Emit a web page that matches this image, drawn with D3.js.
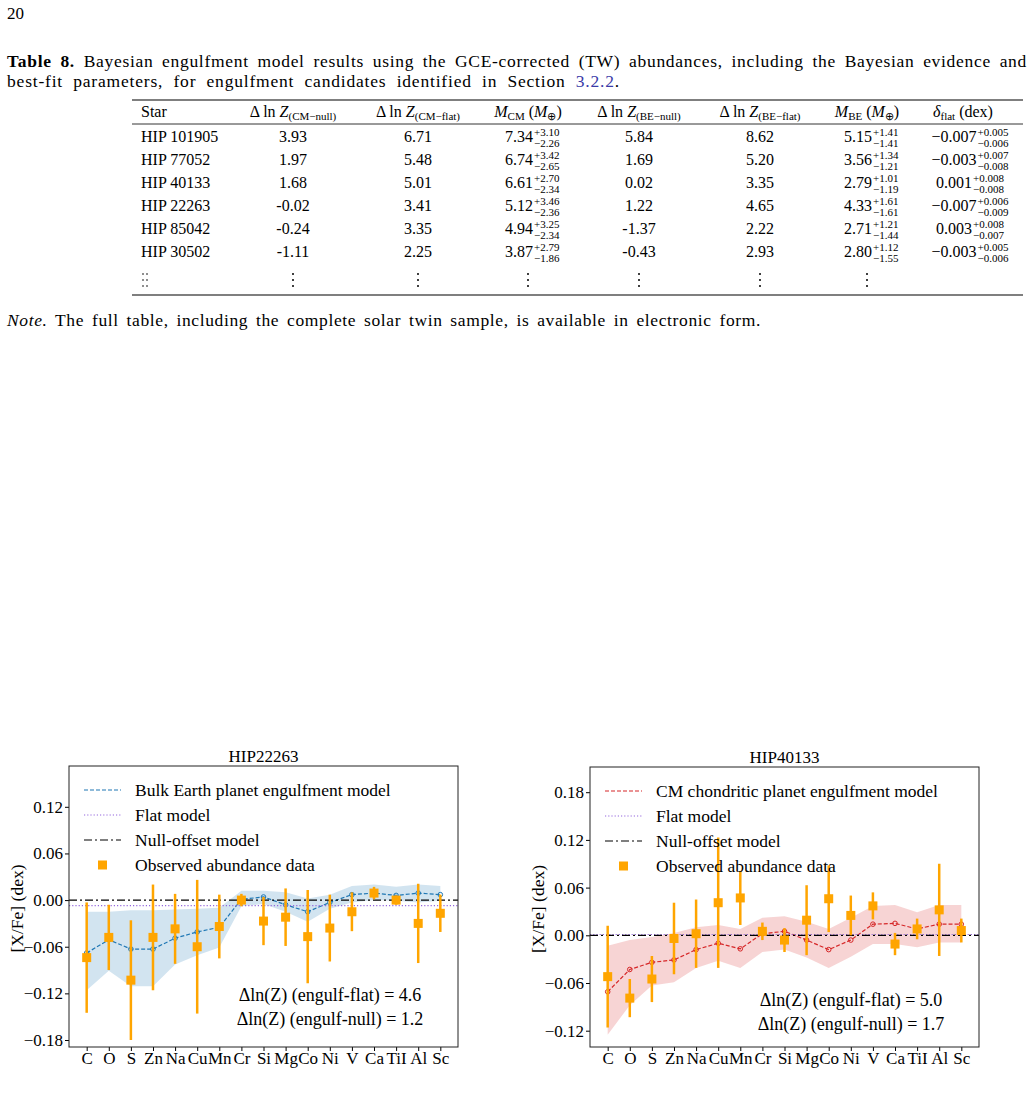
<!DOCTYPE html>
<html>
<head>
<meta charset="utf-8">
<script src="https://cdn.jsdelivr.net/npm/d3@7"></script>
<style>
  body { margin: 0; background: #fff; }
  svg { display: block; }
  text { font-family: "Liberation Serif", "Times New Roman", serif; fill: #000; }
</style>
</head>
<body>
<script>
// ---- table data ----
const stars = ["HIP 101905", "HIP 77052", "HIP 40133", "HIP 22263", "HIP 85042", "HIP 30502"];
const dlnzCmNull = ["3.93", "1.97", "1.68", "-0.02", "-0.24", "-1.11"];
const dlnzCmFlat = ["6.71", "5.48", "5.01", "3.41", "3.35", "2.25"];
const massCm = [["7.34", "+3.10", "−2.26"], ["6.74", "+3.42", "−2.65"], ["6.61", "+2.70", "−2.34"],
                ["5.12", "+3.46", "−2.36"], ["4.94", "+3.25", "−2.34"], ["3.87", "+2.79", "−1.86"]];
const dlnzBeNull = ["5.84", "1.69", "0.02", "1.22", "-1.37", "-0.43"];
const dlnzBeFlat = ["8.62", "5.20", "3.35", "4.65", "2.22", "2.93"];
const massBe = [["5.15", "+1.41", "−1.41"], ["3.56", "+1.34", "−1.21"], ["2.79", "+1.01", "−1.19"],
                ["4.33", "+1.61", "−1.61"], ["2.71", "+1.21", "−1.44"], ["2.80", "+1.12", "−1.55"]];
const deltaFlat = [["−0.007", "+0.005", "−0.006"], ["−0.003", "+0.007", "−0.008"], ["0.001", "+0.008", "−0.008"],
                   ["−0.007", "+0.006", "−0.009"], ["0.003", "+0.008", "−0.007"], ["−0.003", "+0.005", "−0.006"]];

// ---- chart data ----
const elements = ["C", "O", "S", "Zn", "Na", "Cu", "Mn", "Cr", "Si", "Mg", "Co", "Ni", "V", "Ca", "TiI", "Al", "Sc"];

// HIP22263, bulk Earth model
const obs22263 = [-0.074, -0.048, -0.103, -0.048, -0.037, -0.060, -0.034, 0.000, -0.027, -0.022, -0.047, -0.036, -0.015, 0.009, 0.000, -0.030, -0.017];
const err22263 = [0.071, 0.042, 0.077, 0.068, 0.045, 0.086, 0.041, 0.008, 0.031, 0.037, 0.060, 0.043, 0.025, 0.008, 0.006, 0.051, 0.024];
const model22263 = [-0.068, -0.051, -0.063, -0.063, -0.049, -0.041, -0.035, 0.001, 0.004, -0.006, -0.015, -0.003, 0.007, 0.009, 0.006, 0.009, 0.007];
const bandLo22263 = [-0.116, -0.091, -0.111, -0.111, -0.083, -0.071, -0.061, -0.008, -0.005, -0.015, -0.028, -0.011, -0.003, 0.000, -0.001, -0.003, -0.001];
const bandHi22263 = [-0.015, -0.015, -0.013, -0.013, -0.012, -0.011, -0.010, 0.012, 0.012, 0.010, 0.002, 0.007, 0.018, 0.020, 0.017, 0.020, 0.018];

// HIP40133, CM chondritic model
const obs40133 = [-0.052, -0.079, -0.055, -0.004, 0.002, 0.041, 0.047, 0.005, -0.006, 0.019, 0.046, 0.025, 0.037, -0.011, 0.008, 0.032, 0.006];
const err40133 = [0.064, 0.024, 0.029, 0.045, 0.043, 0.082, 0.034, 0.011, 0.015, 0.044, 0.042, 0.025, 0.017, 0.014, 0.013, 0.058, 0.015];
const model40133 = [-0.071, -0.043, -0.034, -0.031, -0.018, -0.010, -0.017, 0.002, 0.005, -0.006, -0.018, -0.006, 0.014, 0.015, 0.008, 0.014, 0.014];
const bandLo40133 = [-0.125, -0.088, -0.063, -0.059, -0.041, -0.032, -0.041, -0.021, -0.018, -0.028, -0.041, -0.027, -0.011, -0.011, -0.015, -0.009, -0.009];
const bandHi40133 = [-0.013, -0.006, -0.002, 0.003, 0.010, 0.013, 0.008, 0.022, 0.024, 0.017, 0.008, 0.022, 0.037, 0.038, 0.029, 0.038, 0.038];

const W = 1034, H = 1107;
const svg = d3.select("body").append("svg").attr("width", W).attr("height", H);

// stretch a line to a given width, sharing the slack between letters and spaces
function justify(t, target) {
  const s = t.text();
  const spaces = (s.match(/ /g) || []).length;
  const extra = target - t.node().getComputedTextLength();
  if (extra <= 0) return;
  t.attr("letter-spacing", 0.6 * extra / s.length);
  if (spaces > 0) t.attr("word-spacing", 0.4 * extra / spaces);
}

// ---- page text ----
svg.append("text").attr("x", 7).attr("y", 19).attr("font-size", 17).text("20");

const cap1 = svg.append("text").attr("x", 7).attr("y", 67).attr("font-size", 17.5);
cap1.append("tspan").attr("font-weight", "bold").text("Table 8.");
cap1.append("tspan").text(" Bayesian engulfment model results using the GCE-corrected (TW) abundances, including the Bayesian evidence and");
justify(cap1, 1020);

const cap2 = svg.append("text").attr("x", 7).attr("y", 87).attr("font-size", 17.5);
cap2.append("tspan").text("best-fit parameters, for engulfment candidates identified in Section ");
cap2.append("tspan").style("fill", "#3a3aa8").text("3.2.2");
cap2.append("tspan").text(".");
justify(cap2, 613);

const note = svg.append("text").attr("x", 7).attr("y", 326).attr("font-size", 17.5);
note.append("tspan").attr("font-style", "italic").text("Note.");
note.append("tspan").text(" The full table, including the complete solar twin sample, is available in electronic form.");
justify(note, 754);

// ---- table ----
const tbl = svg.append("g");
const tx0 = 132, tx1 = 1023;
[[100, 1.2], [124, 0.8], [295, 1.2]].forEach(([yy, sw]) => {
  tbl.append("line").attr("x1", tx0).attr("x2", tx1).attr("y1", yy).attr("y2", yy)
    .attr("stroke", "#000").attr("stroke-width", sw);
});

const colX = [141, 293, 418, 528, 639, 760, 867, 963];
const headerY = 117;
const fs = 16;

function lnZHeader(x, sub) {
  const t = tbl.append("text").attr("x", x).attr("y", headerY).attr("font-size", fs).attr("text-anchor", "middle");
  t.append("tspan").text("Δ ln ");
  t.append("tspan").attr("font-style", "italic").text("Z");
  t.append("tspan").attr("font-size", 11).attr("dy", 3).text(sub);
}
function massHeader(x, sub) {
  const t = tbl.append("text").attr("x", x).attr("y", headerY).attr("font-size", fs).attr("text-anchor", "middle");
  t.append("tspan").attr("font-style", "italic").text("M");
  t.append("tspan").attr("font-size", 11).attr("dy", 3).text(sub);
  t.append("tspan").attr("dy", -3).text(" (");
  t.append("tspan").attr("font-style", "italic").text("M");
  t.append("tspan").attr("font-size", 11).attr("dy", 3).text("⊕");
  t.append("tspan").attr("dy", -3).text(")");
}
tbl.append("text").attr("x", colX[0]).attr("y", headerY).attr("font-size", fs).text("Star");
lnZHeader(colX[1], "(CM−null)");
lnZHeader(colX[2], "(CM−flat)");
massHeader(colX[3], "CM");
lnZHeader(colX[4], "(BE−null)");
lnZHeader(colX[5], "(BE−flat)");
massHeader(colX[6], "BE");
{
  const t = tbl.append("text").attr("x", colX[7]).attr("y", headerY).attr("font-size", fs).attr("text-anchor", "middle");
  t.append("tspan").attr("font-style", "italic").text("δ");
  t.append("tspan").attr("font-size", 11).attr("dy", 3).text("flat");
  t.append("tspan").attr("dy", -3).text("  (dex)");
}

const rowY = d3.range(stars.length).map(i => 142 + i * 23);

function plainCol(x, vals, anchor) {
  tbl.selectAll(null).data(vals).join("text")
    .attr("x", x).attr("y", (d, i) => rowY[i]).attr("font-size", fs)
    .attr("text-anchor", anchor || "middle").text(d => d);
}
function errCol(x, vals) {
  vals.forEach((v, i) => {
    const main = tbl.append("text").attr("x", x - 9).attr("y", rowY[i]).attr("font-size", fs)
      .attr("text-anchor", "middle").text(v[0]);
    const w = main.node().getComputedTextLength();
    const xr = x - 9 + w / 2 + 1;
    tbl.append("text").attr("x", xr).attr("y", rowY[i] - 6).attr("font-size", 11).text(v[1]);
    tbl.append("text").attr("x", xr).attr("y", rowY[i] + 5).attr("font-size", 11).text(v[2]);
  });
}
plainCol(colX[0], stars, "start");
plainCol(colX[1], dlnzCmNull);
plainCol(colX[2], dlnzCmFlat);
errCol(colX[3], massCm);
plainCol(colX[4], dlnzBeNull);
plainCol(colX[5], dlnzBeFlat);
errCol(colX[6], massBe);
errCol(colX[7], deltaFlat);

// vertical ellipsis row
const dotY = [274, 280, 286];
colX.slice(1, 7).forEach(x => {
  dotY.forEach(yy => tbl.append("circle").attr("cx", x).attr("cy", yy).attr("r", 1).attr("fill", "#000"));
});
[143, 147].forEach(x => dotY.forEach(yy => tbl.append("circle").attr("cx", x).attr("cy", yy).attr("r", 0.8).attr("fill", "#000")));

// ---- panels ----
const orange = "#FFA500";
const flatColor = "#9467dd";

function panel(o) {
  const g = svg.append("g");
  const x = d3.scaleLinear().domain([-0.8, 16.8]).range([o.left, o.right]);
  const y = d3.scaleLinear().domain(o.ydom).range([o.bottom, o.top]);
  const clipId = "clip" + o.id;
  g.append("clipPath").attr("id", clipId).append("rect")
    .attr("x", o.left).attr("y", o.top).attr("width", o.right - o.left).attr("height", o.bottom - o.top);
  const plot = g.append("g").attr("clip-path", `url(#${clipId})`);

  const idx = d3.range(elements.length);

  // uncertainty band of the model
  plot.append("path").datum(idx)
    .attr("d", d3.area().x(i => x(i)).y0(i => y(o.bandLo[i])).y1(i => y(o.bandHi[i])))
    .attr("fill", o.color).attr("fill-opacity", 0.2);

  // engulfment model
  plot.append("path").datum(idx)
    .attr("d", d3.line().x(i => x(i)).y(i => y(o.model[i])))
    .attr("fill", "none").attr("stroke", o.color).attr("stroke-width", 1.2).attr("stroke-dasharray", "4,2");
  plot.selectAll(".mk").data(idx).join("circle")
    .attr("cx", i => x(i)).attr("cy", i => y(o.model[i])).attr("r", 2.3)
    .attr("fill", "none").attr("stroke", o.color).attr("stroke-width", 1);

  // flat and null models
  plot.append("line").attr("x1", o.left).attr("x2", o.right)
    .attr("y1", y(o.flat)).attr("y2", y(o.flat))
    .attr("stroke", flatColor).attr("stroke-width", 1.2).attr("stroke-dasharray", "1.2,2");
  plot.append("line").attr("x1", o.left).attr("x2", o.right)
    .attr("y1", y(0)).attr("y2", y(0))
    .attr("stroke", "#000").attr("stroke-width", 1.2).attr("stroke-dasharray", "8,3,2,3");

  // observed data
  plot.selectAll(".eb").data(idx).join("line")
    .attr("x1", i => x(i)).attr("x2", i => x(i))
    .attr("y1", i => y(o.obs[i] - o.err[i])).attr("y2", i => y(o.obs[i] + o.err[i]))
    .attr("stroke", orange).attr("stroke-width", 2.5);
  plot.selectAll(".sq").data(idx).join("rect")
    .attr("x", i => x(i) - 4.5).attr("y", i => y(o.obs[i]) - 4.5)
    .attr("width", 9).attr("height", 9).attr("fill", orange);

  // axes
  const ya = g.append("g").attr("transform", `translate(${o.left},0)`)
    .call(d3.axisLeft(y).tickValues(o.yticks).tickFormat(d3.format(".2f")).tickSize(4).tickPadding(2));
  const xa = g.append("g").attr("transform", `translate(0,${o.bottom})`)
    .call(d3.axisBottom(x).tickValues(idx).tickFormat(i => elements[i]).tickSize(4).tickPadding(1));
  [ya, xa].forEach(a => {
    a.select(".domain").remove();
    a.selectAll("text").attr("font-size", 17).attr("font-family", "Liberation Serif, serif").style("fill", "#000");
    a.selectAll("line").attr("stroke", "#000");
  });

  g.append("rect").attr("x", o.left).attr("y", o.top)
    .attr("width", o.right - o.left).attr("height", o.bottom - o.top)
    .attr("fill", "none").attr("stroke", "#222").attr("stroke-width", 1);

  g.append("text").attr("x", (o.left + o.right) / 2).attr("y", o.top - 4)
    .attr("text-anchor", "middle").attr("font-size", 17).text(o.title);
  g.append("text").attr("transform", `translate(${o.left - 46},${(o.top + o.bottom) / 2 + 2}) rotate(-90)`)
    .attr("text-anchor", "middle").attr("font-size", 17.5).text("[X/Fe] (dex)");

  // legend
  const lx = o.left + 15, ly = o.top + 24, ldy = 25;
  const leg = g.append("g");
  const rows = [o.modelLabel, "Flat model", "Null-offset model", "Observed abundance data"];
  rows.forEach((r, k) => {
    leg.append("text").attr("x", lx + 51).attr("y", ly + k * ldy + 6).attr("font-size", 17.5).text(r);
  });
  leg.append("line").attr("x1", lx).attr("x2", lx + 37).attr("y1", ly).attr("y2", ly)
    .attr("stroke", o.color).attr("stroke-width", 1.2).attr("stroke-dasharray", "4,2");
  leg.append("line").attr("x1", lx).attr("x2", lx + 37).attr("y1", ly + ldy).attr("y2", ly + ldy)
    .attr("stroke", flatColor).attr("stroke-width", 1.2).attr("stroke-dasharray", "1.2,2");
  leg.append("line").attr("x1", lx).attr("x2", lx + 37).attr("y1", ly + 2 * ldy).attr("y2", ly + 2 * ldy)
    .attr("stroke", "#000").attr("stroke-width", 1.2).attr("stroke-dasharray", "8,3,2,3");
  leg.append("rect").attr("x", lx + 18.5 - 4.5).attr("y", ly + 3 * ldy - 4.5)
    .attr("width", 9).attr("height", 9).attr("fill", orange);

  // evidence annotation
  o.notes.forEach((s, k) => {
    g.append("text").attr("x", o.noteX).attr("y", o.noteY + k * 24)
      .attr("text-anchor", "middle").attr("font-size", 18).text(s);
  });
}

panel({
  id: "a", left: 69, right: 458, top: 766, bottom: 1047,
  ydom: [-0.189, 0.1725], yticks: [-0.18, -0.12, -0.06, 0, 0.06, 0.12],
  title: "HIP22263", color: "#1f77b4", modelLabel: "Bulk Earth planet engulfment model",
  obs: obs22263, err: err22263, model: model22263, bandLo: bandLo22263, bandHi: bandHi22263,
  flat: -0.007,
  notes: ["Δln(Z) (engulf-flat) = 4.6", "Δln(Z) (engulf-null) = 1.2"], noteX: 330, noteY: 1001
});

panel({
  id: "b", left: 590, right: 979, top: 767, bottom: 1047,
  ydom: [-0.1405, 0.2117], yticks: [-0.12, -0.06, 0, 0.06, 0.12, 0.18],
  title: "HIP40133", color: "#d62728", modelLabel: "CM chondritic planet engulfment model",
  obs: obs40133, err: err40133, model: model40133, bandLo: bandLo40133, bandHi: bandHi40133,
  flat: 0.001,
  notes: ["Δln(Z) (engulf-flat) = 5.0", "Δln(Z) (engulf-null) = 1.7"], noteX: 851, noteY: 1006
});
</script>
</body>
</html>
